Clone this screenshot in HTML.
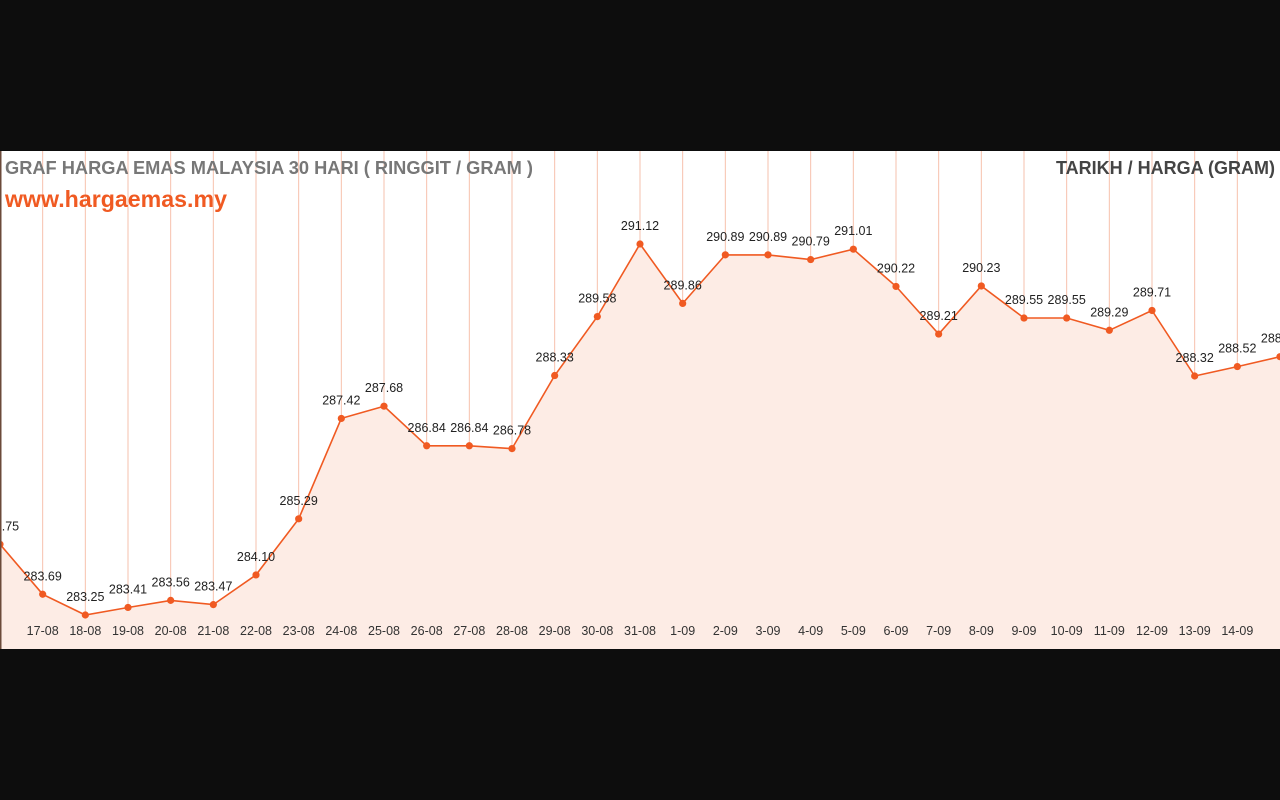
<!DOCTYPE html>
<html><head><meta charset="utf-8"><style>
html,body{margin:0;padding:0;background:#0d0d0d;width:1280px;height:800px;overflow:hidden;font-family:"Liberation Sans",sans-serif}
svg{position:absolute;left:0;top:0}
</style></head><body>
<svg width="1280" height="800">
<rect x="0" y="151" width="1280" height="498" fill="#ffffff"/>
<g id="grid"></g>
<path id="area" fill="#fdece5"/>
<path id="line" fill="none" stroke="#f05a22" stroke-width="1.6"/>
<g id="pts"></g>
<g id="lbls" font-size="12.5" fill="#222" text-anchor="middle"></g>
<g id="xl" font-size="12.5" fill="#333" text-anchor="middle"></g>
<rect x="0" y="151" width="1.5" height="498" fill="#6b4a3a"/>
<text x="5" y="174" font-size="18.3" font-weight="bold" fill="#777" textLength="528" lengthAdjust="spacingAndGlyphs">GRAF HARGA EMAS MALAYSIA 30 HARI ( RINGGIT / GRAM )</text>
<text x="5" y="207" font-size="23" font-weight="bold" fill="#f05a22" textLength="222" lengthAdjust="spacingAndGlyphs">www.hargaemas.my</text>
<text x="1275" y="174" font-size="18" font-weight="bold" fill="#444" text-anchor="end">TARIKH / HARGA (GRAM)</text>
</svg>
<script>
const dates=["16-08","17-08","18-08","19-08","20-08","21-08","22-08","23-08","24-08","25-08","26-08","27-08","28-08","29-08","30-08","31-08","1-09","2-09","3-09","4-09","5-09","6-09","7-09","8-09","9-09","10-09","11-09","12-09","13-09","14-09","15-09"];
const prices=[284.75,283.69,283.25,283.41,283.56,283.47,284.10,285.29,287.42,287.68,286.84,286.84,286.78,288.33,289.58,291.12,289.86,290.89,290.89,290.79,291.01,290.22,289.21,290.23,289.55,289.55,289.29,289.71,288.32,288.52,288.73];
const NS="http://www.w3.org/2000/svg";
const step=1280/30;
const xs=i=>i*step;
const ys=v=>615-(v-283.25)*47.14;
const grid=document.getElementById('grid'),pts=document.getElementById('pts'),lb=document.getElementById('lbls'),xl=document.getElementById('xl');
let d="";
prices.forEach((v,i)=>{
  const x=xs(i),y=ys(v);
  d+=(i?"L":"M")+x.toFixed(1)+","+y.toFixed(1);
  if(i>0&&i<30){
    const g=document.createElementNS(NS,'line');
    
    
    g.setAttribute('x1',x);g.setAttribute('x2',x);g.setAttribute('y1',151);g.setAttribute('y2',649);
    g.setAttribute('stroke','#f6c1ad');g.setAttribute('stroke-width','1');
    grid.appendChild(g);
    const t=document.createElementNS(NS,'text');
    
    
    t.setAttribute('x',x);t.setAttribute('y',635);t.textContent=dates[i];
    xl.appendChild(t);
  }
  const c=document.createElementNS(NS,'circle');
  
  
  c.setAttribute('cx',x);c.setAttribute('cy',y);c.setAttribute('r',3.6);c.setAttribute('fill','#f05a22');
  pts.appendChild(c);
  const t=document.createElementNS(NS,'text');
  
  
  t.setAttribute('x',x);t.setAttribute('y',y-14);t.textContent=v.toFixed(2);
  lb.appendChild(t);
});
document.getElementById('line').setAttribute('d',d);
document.getElementById('area').setAttribute('d',d+"L1280,649L0,649Z");
</script>
</body></html>
